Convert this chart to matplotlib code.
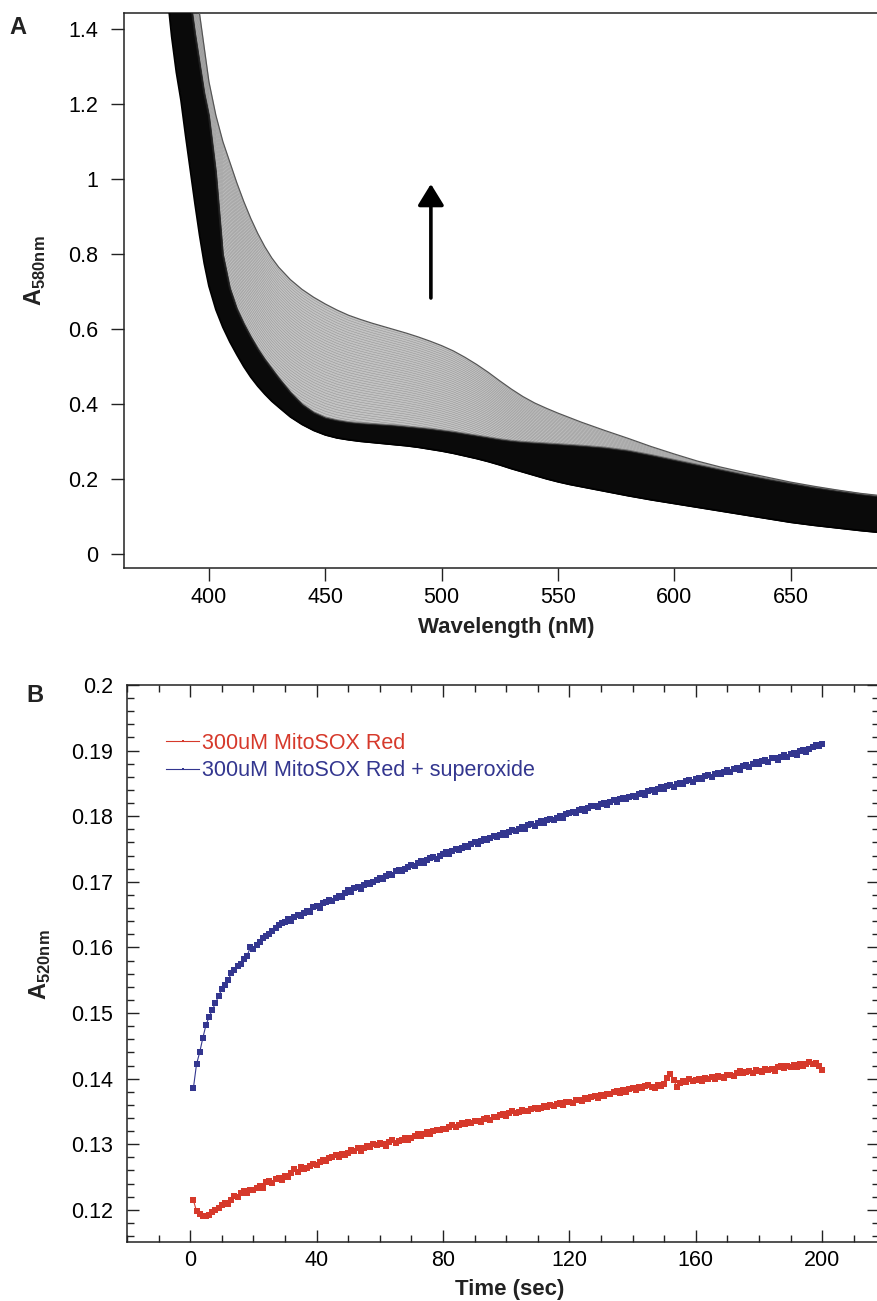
import numpy as np
import matplotlib
matplotlib.use("Agg")
import matplotlib.pyplot as plt
from matplotlib.ticker import MultipleLocator, FuncFormatter

plt.rcParams['font.family'] = ['Liberation Sans', 'DejaVu Sans']
plt.rcParams['mathtext.fontset'] = 'custom'
plt.rcParams['mathtext.rm'] = 'Liberation Sans'
plt.rcParams['mathtext.bf'] = 'Liberation Sans:bold'

# ---- Panel A: spectra (first scan, last scan, edge of the dense early scans,
#      and fraction converted per scan)
wavelength_nm = [380, 382, 384, 386, 388, 390, 392, 394, 396, 398, 400, 403, 406, 409, 412, 415,
                 418, 421, 424, 427, 430, 435, 440, 445, 450, 455, 460, 465, 470, 475, 480, 485,
                 490, 495, 500, 505, 510, 515, 520, 525, 530, 535, 540, 545, 550, 555, 560, 570,
                 580, 590, 600, 610, 620, 630, 640, 650, 660, 670, 680, 690]
first_scan = [1.62, 1.50, 1.38, 1.285, 1.21, 1.115, 1.025, 0.935, 0.85, 0.775, 0.715, 0.652, 0.605,
              0.566, 0.532, 0.500, 0.472, 0.448, 0.427, 0.408, 0.392, 0.366, 0.346, 0.330, 0.318,
              0.310, 0.305, 0.301, 0.298, 0.295, 0.292, 0.289, 0.285, 0.280, 0.275, 0.269, 0.262,
              0.255, 0.247, 0.238, 0.228, 0.219, 0.210, 0.201, 0.193, 0.186, 0.180, 0.168, 0.156,
              0.145, 0.135, 0.125, 0.115, 0.105, 0.095, 0.085, 0.077, 0.070, 0.063, 0.057]
early_scans_top = [2.25, 2.09, 1.94, 1.81, 1.69, 1.58, 1.48, 1.39, 1.31, 1.23, 1.17, 1.02, 0.80,
                   0.71, 0.655, 0.615, 0.58, 0.548, 0.52, 0.495, 0.47, 0.432, 0.40, 0.378, 0.364,
                   0.357, 0.352, 0.349, 0.347, 0.345, 0.343, 0.340, 0.337, 0.334, 0.330, 0.326,
                   0.321, 0.316, 0.311, 0.306, 0.302, 0.299, 0.297, 0.295, 0.293, 0.291, 0.289,
                   0.284, 0.276, 0.264, 0.251, 0.238, 0.225, 0.212, 0.200, 0.189, 0.178, 0.169,
                   0.160, 0.153]
last_scan = [2.40, 2.23, 2.07, 1.93, 1.80, 1.69, 1.60, 1.52, 1.44, 1.35, 1.26, 1.17, 1.10, 1.045,
             0.99, 0.94, 0.895, 0.855, 0.82, 0.79, 0.765, 0.732, 0.706, 0.685, 0.667, 0.651, 0.637,
             0.626, 0.616, 0.607, 0.598, 0.589, 0.579, 0.568, 0.556, 0.542, 0.525, 0.506, 0.485,
             0.462, 0.440, 0.420, 0.403, 0.389, 0.376, 0.364, 0.352, 0.330, 0.309, 0.287, 0.267,
             0.248, 0.232, 0.218, 0.205, 0.192, 0.181, 0.171, 0.162, 0.155]
scan_progress = [0.1, 0.12, 0.14, 0.16, 0.18, 0.2, 0.22, 0.24, 0.26, 0.28, 0.3, 0.32, 0.34,
                 0.36, 0.38, 0.4, 0.42, 0.44, 0.46, 0.48, 0.5, 0.52, 0.54, 0.56, 0.58, 0.6,
                 0.62, 0.64, 0.66, 0.68, 0.7, 0.72, 0.74, 0.76, 0.78, 0.8, 0.82, 0.84, 0.86,
                 0.88, 0.9, 0.92, 0.94, 0.96, 0.98]

# ---- Panel B: kinetics at 520 nm
time_sec = np.arange(1, 201)
mitosox = [0.1215, 0.1198, 0.1193, 0.1191, 0.1190, 0.1192, 0.1196, 0.1200, 0.1203, 0.1207,
           0.1211, 0.1209, 0.1215, 0.1221, 0.1219, 0.1225, 0.1228, 0.1226, 0.1231, 0.1230,
           0.1233, 0.1236, 0.1234, 0.1242, 0.1244, 0.1241, 0.1247, 0.1249, 0.1246, 0.1251,
           0.1250, 0.1256, 0.1262, 0.1258, 0.1265, 0.1262, 0.1264, 0.1267, 0.1270, 0.1268,
           0.1273, 0.1276, 0.1274, 0.1279, 0.1280, 0.1283, 0.1281, 0.1285, 0.1284, 0.1287,
           0.1291, 0.1289, 0.1295, 0.1290, 0.1294, 0.1297, 0.1296, 0.1300, 0.1299, 0.1302,
           0.1301, 0.1298, 0.1304, 0.1306, 0.1302, 0.1305, 0.1307, 0.1309, 0.1306, 0.1310,
           0.1312, 0.1315, 0.1313, 0.1316, 0.1318, 0.1316, 0.1320, 0.1322, 0.1321, 0.1324,
           0.1323, 0.1327, 0.1329, 0.1326, 0.1330, 0.1332, 0.1331, 0.1334, 0.1333, 0.1336,
           0.1335, 0.1334, 0.1338, 0.1340, 0.1337, 0.1342, 0.1341, 0.1344, 0.1346, 0.1343,
           0.1348, 0.1350, 0.1347, 0.1349, 0.1352, 0.1351, 0.1350, 0.1354, 0.1356, 0.1353,
           0.1356, 0.1358, 0.1357, 0.1360, 0.1358, 0.1361, 0.1363, 0.1360, 0.1364, 0.1365,
           0.1363, 0.1367, 0.1368, 0.1366, 0.1370, 0.1369, 0.1372, 0.1374, 0.1371, 0.1375,
           0.1373, 0.1377, 0.1376, 0.1379, 0.1381, 0.1378, 0.1382, 0.1380, 0.1384, 0.1386,
           0.1383, 0.1387, 0.1385, 0.1389, 0.1391, 0.1388, 0.1386, 0.1390, 0.1389, 0.1392,
           0.1401, 0.1407, 0.1398, 0.1388, 0.1393, 0.1396, 0.1395, 0.1399, 0.1397, 0.1398,
           0.1400, 0.1397, 0.1401, 0.1399, 0.1402, 0.1400, 0.1404, 0.1403, 0.1401, 0.1405,
           0.1406, 0.1404, 0.1409, 0.1412, 0.1408, 0.1410, 0.1411, 0.1409, 0.1413, 0.1412,
           0.1410, 0.1414, 0.1413, 0.1415, 0.1412, 0.1417, 0.1420, 0.1416, 0.1419, 0.1418,
           0.1421, 0.1417, 0.1422, 0.1420, 0.1423, 0.1425, 0.1422, 0.1424, 0.1419, 0.1413]
mitosox_superoxide = [0.1385, 0.1422, 0.1440, 0.1462, 0.1482, 0.1494, 0.1505, 0.1515, 0.1526, 0.1536,
                      0.1543, 0.1550, 0.1561, 0.1566, 0.1572, 0.1575, 0.1583, 0.1587, 0.1600, 0.1597,
                      0.1603, 0.1608, 0.1614, 0.1618, 0.1621, 0.1625, 0.1629, 0.1634, 0.1637, 0.1639,
                      0.1643, 0.1641, 0.1646, 0.1650, 0.1648, 0.1653, 0.1656, 0.1654, 0.1661, 0.1663,
                      0.1660, 0.1667, 0.1669, 0.1673, 0.1671, 0.1676, 0.1679, 0.1677, 0.1683, 0.1687,
                      0.1685, 0.1690, 0.1692, 0.1689, 0.1695, 0.1698, 0.1696, 0.1700, 0.1703, 0.1706,
                      0.1704, 0.1709, 0.1712, 0.1710, 0.1716, 0.1718, 0.1716, 0.1720, 0.1723, 0.1726,
                      0.1724, 0.1728, 0.1731, 0.1729, 0.1733, 0.1736, 0.1738, 0.1735, 0.1740, 0.1742,
                      0.1745, 0.1743, 0.1747, 0.1750, 0.1748, 0.1752, 0.1755, 0.1753, 0.1757, 0.1760,
                      0.1758, 0.1762, 0.1766, 0.1763, 0.1767, 0.1770, 0.1768, 0.1772, 0.1774, 0.1771,
                      0.1776, 0.1779, 0.1777, 0.1781, 0.1783, 0.1780, 0.1786, 0.1788, 0.1785, 0.1790,
                      0.1792, 0.1789, 0.1794, 0.1796, 0.1794, 0.1798, 0.1800, 0.1797, 0.1803, 0.1805,
                      0.1807, 0.1805, 0.1809, 0.1811, 0.1808, 0.1813, 0.1815, 0.1816, 0.1814, 0.1818,
                      0.1820, 0.1817, 0.1822, 0.1824, 0.1821, 0.1826, 0.1828, 0.1826, 0.1830, 0.1831,
                      0.1829, 0.1834, 0.1836, 0.1833, 0.1838, 0.1840, 0.1837, 0.1842, 0.1844, 0.1841,
                      0.1846, 0.1848, 0.1845, 0.1849, 0.1851, 0.1849, 0.1853, 0.1855, 0.1852, 0.1857,
                      0.1858, 0.1856, 0.1861, 0.1863, 0.1860, 0.1865, 0.1866, 0.1864, 0.1868, 0.1870,
                      0.1867, 0.1872, 0.1874, 0.1871, 0.1876, 0.1878, 0.1875, 0.1880, 0.1882, 0.1879,
                      0.1884, 0.1886, 0.1883, 0.1888, 0.1889, 0.1886, 0.1891, 0.1893, 0.1890, 0.1895,
                      0.1897, 0.1894, 0.1899, 0.1901, 0.1898, 0.1903, 0.1906, 0.1909, 0.1907, 0.1910]

red = '#d6392b'
blue = '#33368f'
W, H = 877, 1301
fig = plt.figure(figsize=(W / 100, H / 100), dpi=100)

def gfmt(v, pos):
    return '%g' % round(v, 4)

# ---------------- Panel A
axA = fig.add_axes([124 / W, 1 - 568 / H, (879 - 124) / W, (568 - 13) / H])
base = np.array(first_scan)
final = np.array(last_scan)
# light grey body of the later scans
axA.fill_between(wavelength_nm, base, final, color='#c3c3c3', lw=0, zorder=1)
for f in scan_progress:
    axA.plot(wavelength_nm, base + f * (final - base), color='#8a8a8a', lw=0.3, zorder=2)
# dense early scans appear black
axA.fill_between(wavelength_nm, base, early_scans_top, color='#0a0a0a', lw=0.5,
                 edgecolor='#0a0a0a', zorder=3)
axA.plot(wavelength_nm, early_scans_top, color='#333333', lw=1.5, alpha=0.5, zorder=3.5)
axA.plot(wavelength_nm, first_scan, color='black', lw=1.3, zorder=4)
axA.plot(wavelength_nm, last_scan, color='#555555', lw=0.9, zorder=4)
axA.set_xlim(363.5, 688)
axA.set_ylim(-0.037, 1.443)
axA.set_xticks([400, 450, 500, 550, 600, 650])
axA.set_yticks([0, 0.2, 0.4, 0.6, 0.8, 1.0, 1.2, 1.4])
axA.yaxis.set_major_formatter(FuncFormatter(gfmt))
axA.tick_params(direction='out', length=9.5, width=1.0, labelsize=15.5, color='#222222')
axA.tick_params(axis='y', pad=9)
axA.tick_params(axis='x', pad=4)
for s in axA.spines.values():
    s.set_linewidth(1.1)
    s.set_color('#222222')
axA.annotate('', xy=(495.4, 0.987), xytext=(495.4, 0.683),
             arrowprops=dict(arrowstyle='-|>,head_length=0.65,head_width=0.4',
                             lw=2.6, color='black', mutation_scale=20, shrinkA=0, shrinkB=0))

fig.text(506 / W, 1 - 628 / H, 'Wavelength (nM)', fontsize=16, fontweight='bold',
         ha='center', va='center', color='#222222')
fig.text(35 / W, 1 - 271 / H, r'$\mathbf{A}_{\mathbf{580nm}}$', fontsize=17, rotation=90,
         ha='center', va='center', color='#222222')
fig.text(18 / W, 1 - 28 / H, 'A', fontsize=17, fontweight='bold', ha='center', va='center',
         color='#222222')

# ---------------- Panel B
axB = fig.add_axes([127 / W, 1 - 1242 / H, (879 - 127) / W, (1242 - 685) / H])
axB.plot(time_sec, mitosox, color=red, lw=0.8, marker='s', ms=5.0, mew=0,
         label='300uM MitoSOX Red')
axB.plot(time_sec, mitosox_superoxide, color=blue, lw=0.8, marker='s', ms=5.0, mew=0,
         label='300uM MitoSOX Red + superoxide')
axB.set_xlim(-20, 218)
axB.set_ylim(0.1151, 0.2)
axB.xaxis.set_major_locator(MultipleLocator(40))
axB.xaxis.set_minor_locator(MultipleLocator(10))
axB.set_xticks([0, 40, 80, 120, 160, 200])
axB.yaxis.set_major_locator(MultipleLocator(0.01))
axB.yaxis.set_minor_locator(MultipleLocator(0.002))
axB.yaxis.set_major_formatter(FuncFormatter(gfmt))
axB.tick_params(which='both', direction='in', top=True, right=True, width=1.0, color='#222222')
axB.tick_params(which='major', length=8.5, labelsize=15.5)
axB.tick_params(which='minor', length=5)
axB.tick_params(axis='y', pad=10)
axB.tick_params(axis='x', pad=6)
for s in axB.spines.values():
    s.set_linewidth(1.1)
    s.set_color('#222222')

leg = axB.legend(loc='upper left', bbox_to_anchor=(0.052, 0.914), frameon=False, fontsize=15.5,
                 handlelength=1.53, handletextpad=0.14, labelspacing=0.3, borderpad=0,
                 borderaxespad=0, markerscale=0.3)
for txt, c in zip(leg.get_texts(), [red, blue]):
    txt.set_color(c)

fig.text(510 / W, 1 - 1290 / H, 'Time (sec)', fontsize=16, fontweight='bold',
         ha='center', va='center', color='#222222')
fig.text(40 / W, 1 - 965 / H, r'$\mathbf{A}_{\mathbf{520nm}}$', fontsize=17, rotation=90,
         ha='center', va='center', color='#222222')
fig.text(35 / W, 1 - 695 / H, 'B', fontsize=17, fontweight='bold', ha='center', va='center',
         color='#222222')

fig.savefig('out.png', dpi=100)
